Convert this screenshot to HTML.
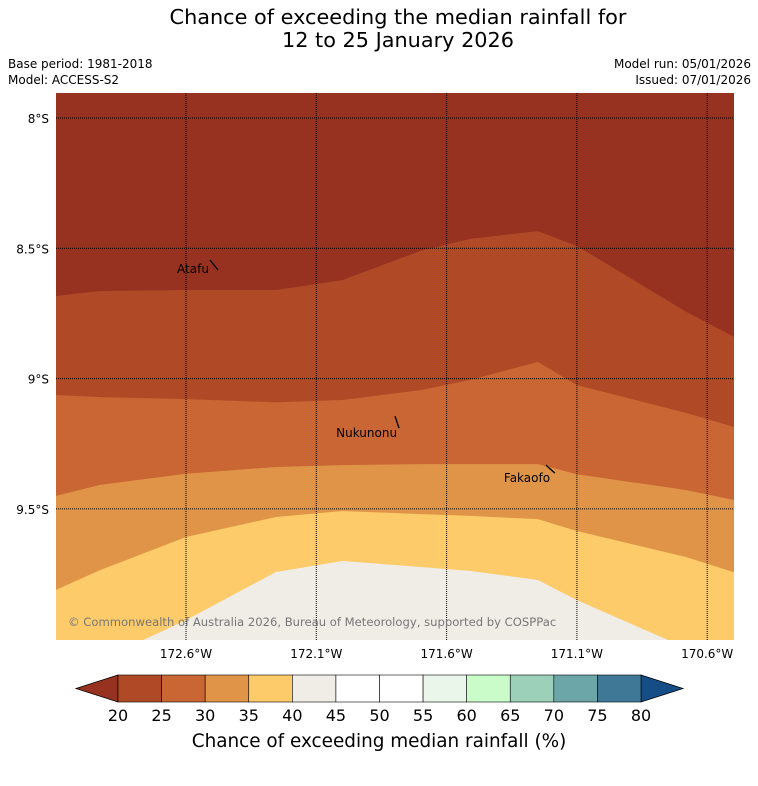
<!DOCTYPE html>
<html><head><meta charset="utf-8">
<style>
body{margin:0;background:#fff;width:758px;height:781px;overflow:hidden;font-family:"Liberation Sans","DejaVu Sans",sans-serif;}
svg text{font-family:"DejaVu Sans","Liberation Sans",sans-serif;}
</style></head><body>
<svg id="chart" width="758" height="781" xmlns="http://www.w3.org/2000/svg">
<text x="398" y="24" text-anchor="middle" font-size="20.8">Chance of exceeding the median rainfall for</text>
<text x="398" y="47" text-anchor="middle" font-size="20.8">12 to 25 January 2026</text>
<text x="8" y="68" font-size="12">Base period: 1981-2018</text>
<text x="8" y="84" font-size="12">Model: ACCESS-S2</text>
<text x="751" y="68" font-size="12" text-anchor="end">Model run: 05/01/2026</text>
<text x="751" y="84" font-size="12" text-anchor="end">Issued: 07/01/2026</text>
<defs><clipPath id="mapclip"><rect x="56" y="93" width="678" height="547"/></clipPath></defs>
<g id="map" clip-path="url(#mapclip)"></g>
<g id="grid"></g>
<g id="labels"></g>
<text x="68" y="626" font-size="11.6" fill="#777">© Commonwealth of Australia 2026, Bureau of Meteorology, supported by COSPPac</text>
<g id="cbar"></g>
<text x="379" y="747" text-anchor="middle" font-size="18.4">Chance of exceeding median rainfall (%)</text>
</svg>
<script>
const lons=[-173.099,-172.93,-172.6,-172.255,-172.0,-171.70,-171.51,-171.25,-171.1,-170.68,-170.497];
const b25=[-8.683,-8.664,-8.660,-8.660,-8.622,-8.510,-8.464,-8.434,-8.491,-8.744,-8.840];
const b30=[-9.063,-9.071,-9.079,-9.091,-9.082,-9.044,-9.005,-8.936,-9.025,-9.132,-9.186];
const b35=[-9.450,-9.408,-9.365,-9.339,-9.332,-9.328,-9.328,-9.328,-9.367,-9.428,-9.466];
const b40=[-9.811,-9.735,-9.608,-9.531,-9.508,-9.520,-9.527,-9.539,-9.585,-9.685,-9.743];
const b45=[-10.195,-10.080,-9.927,-9.742,-9.700,-9.723,-9.738,-9.773,-9.850,-10.034,-10.118];
const bandColors=['#973220','#b04a26','#c96633','#e09448','#fdcb69','#f0ece6'];
const latTicks=[-8,-8.5,-9,-9.5];
const latLabels=['8°S','8.5°S','9°S','9.5°S'];
const lonTicks=[-172.6,-172.1,-171.6,-171.1,-170.6];
const lonLabels=['172.6°W','172.1°W','171.6°W','171.1°W','170.6°W'];
const places=['Atafu','Nukunonu','Fakaofo'];
const placeLon=[-172.508,-171.798,-171.219];
const placeLat=[-8.545,-9.144,-9.332];
const labelLon=[-172.512,-171.790,-171.203];
const labelLat=[-8.595,-9.224,-9.397];
const cbLevels=[20,25,30,35,40,45,50,55,60,65,70,75,80];
const cbColors=['#b04a26','#c96633','#e09448','#fdcb69','#f0ece6','#ffffff','#ffffff','#eaf6ea','#c9fcc9','#9dd0b9','#6ca6a8','#3f7896'];
const markDx=[8,4,9], markDy=[10,12,8];
const NS='http://www.w3.org/2000/svg';
const X=lon=>186+(lon+172.6)*260.6;
const Y=lat=>118-(lat+8)*260.6;
function mk(tag,attrs,parent){const e=document.createElementNS(NS,tag);for(const k in attrs)e.setAttribute(k,attrs[k]);parent.appendChild(e);return e;}
const map=document.getElementById('map');
let r=mk('rect',{x:56,y:93,width:678,height:547,fill:bandColors[0]},map);


const bounds=[b25,b30,b35,b40,b45];
bounds.forEach((b,i)=>{
  let pts=lons.map((lo,j)=>X(lo)+','+Y(b[j])).join(' ');
  pts+=' '+X(lons[lons.length-1])+',700 '+X(lons[0])+',700';
  const p=mk('polygon',{points:pts,fill:bandColors[i+1]},map);
  
  
});
const grid=document.getElementById('grid');
latTicks.forEach((t,i)=>{
  const l=mk('line',{x1:56,x2:734,y1:Y(t),y2:Y(t),stroke:'#000','stroke-width':1,'stroke-dasharray':'1,1'},grid);
  
  
  const tx=mk('text',{x:49,y:Y(t)+5,'text-anchor':'end','font-size':12},grid);
  
  
  tx.textContent=latLabels[i];
});
lonTicks.forEach((t,i)=>{
  const l=mk('line',{x1:X(t),x2:X(t),y1:93,y2:640,stroke:'#000','stroke-width':1,'stroke-dasharray':'1,1'},grid);
  
  
  const tx=mk('text',{x:X(t),y:658,'text-anchor':'middle','font-size':12},grid);
  
  
  tx.textContent=lonLabels[i];
});
const labels=document.getElementById('labels');
places.forEach((p,i)=>{
  const x=X(placeLon[i]),y=Y(placeLat[i]);
  const l=mk('line',{x1:x,y1:y,x2:x+markDx[i],y2:y+markDy[i],stroke:'#000','stroke-width':1.3},labels);
  
  
  const tx=mk('text',{x:X(labelLon[i]),y:Y(labelLat[i]),'text-anchor':'end','font-size':12},labels);
  
  
  tx.textContent=p;
});
const cb=document.getElementById('cbar');
const cx=v=>118+(v-20)*(641-118)/60;
const cy0=675,cy1=702;
let a=mk('polygon',{points:`118,${cy0} 76,688.5 118,${cy1}`,fill:'#973220',stroke:'#000','stroke-width':0.8},cb);


a=mk('polygon',{points:`641,${cy0} 683,688.5 641,${cy1}`,fill:'#154e86',stroke:'#000','stroke-width':0.8},cb);


cbColors.forEach((c,i)=>{
  const s=mk('rect',{x:cx(cbLevels[i]),y:cy0,width:cx(cbLevels[i+1])-cx(cbLevels[i]),height:cy1-cy0,fill:c,stroke:'#000','stroke-width':0.6},cb);
  
  
});
cbLevels.forEach(v=>{
  const tx=mk('text',{x:cx(v),y:721,'text-anchor':'middle','font-size':16},cb);
  
  
  tx.textContent=v;
});
</script>
</body></html>
